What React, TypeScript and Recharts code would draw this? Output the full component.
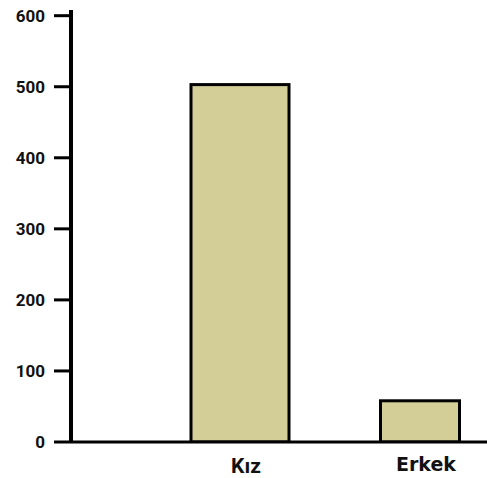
import React from 'react'
import { Bar, BarChart, XAxis, YAxis } from 'recharts'

// Students by gender: two khaki bars on a 0–600 scale.

const categories = ['Kız', 'Erkek']
const counts = [503, 58]
const yTicks = [0, 100, 200, 300, 400, 500, 600]

const data = categories.map((name, i) => ({ name, count: counts[i] }))

// the two bars (and their labels) are not drawn alike in the source
const barWidth: Record<string, number> = { Kız: 98, Erkek: 79 }
const labelStyle: Record<string, { font: string; size: number; dx: number; dy: number }> = {
  Kız: { font: 'Roboto', size: 21, dx: 6, dy: 23 },
  Erkek: { font: 'DejaVu Sans', size: 19, dx: 6, dy: 21 },
}

const fill = '#d3cd97'

function KhakiBar(props: any) {
  const { x, y, width, height, payload } = props
  const w = barWidth[payload.name] ?? width
  const left = x + (width - w) / 2
  return <rect x={left} y={y} width={w} height={height} fill={fill} stroke="#000" strokeWidth={3} />
}

function CategoryTick(props: any) {
  const { x, y, payload } = props
  const s = labelStyle[payload.value]
  return (
    <text
      x={x + s.dx}
      y={y + s.dy}
      textAnchor="middle"
      fontFamily={s.font}
      fontSize={s.size}
      fontWeight={700}
      fill="#111"
    >
      {payload.value}
    </text>
  )
}

function ValueTick(props: any) {
  const { x, y, payload } = props
  return (
    <text x={x} y={y} dy={6} textAnchor="end" fontFamily="Roboto" fontSize={17} fontWeight={700} fill="#111">
      {payload.value}
    </text>
  )
}

export default function App() {
  return (
    <div style={{ position: 'fixed', left: 0, top: 0, width: 487, height: 478, overflow: 'hidden', background: '#fff' }}>
      <BarChart width={510} height={478} data={data} margin={{ top: 10, right: 0, bottom: 0, left: 0 }}>
        <XAxis
          dataKey="name"
          height={36}
          padding={{ left: 79, right: 0 }}
          axisLine={{ stroke: '#000', strokeWidth: 3 }}
          tickLine={false}
          tick={<CategoryTick />}
          interval={0}
        />
        <YAxis
          width={71}
          domain={[0, 608]}
          ticks={yTicks}
          allowDataOverflow
          axisLine={{ stroke: '#000', strokeWidth: 4 }}
          tickLine={{ stroke: '#000', strokeWidth: 3 }}
          tickSize={17}
          tickMargin={9}
          tick={<ValueTick />}
        />
        <Bar dataKey="count" shape={<KhakiBar />} isAnimationActive={false} />
      </BarChart>
    </div>
  )
}
